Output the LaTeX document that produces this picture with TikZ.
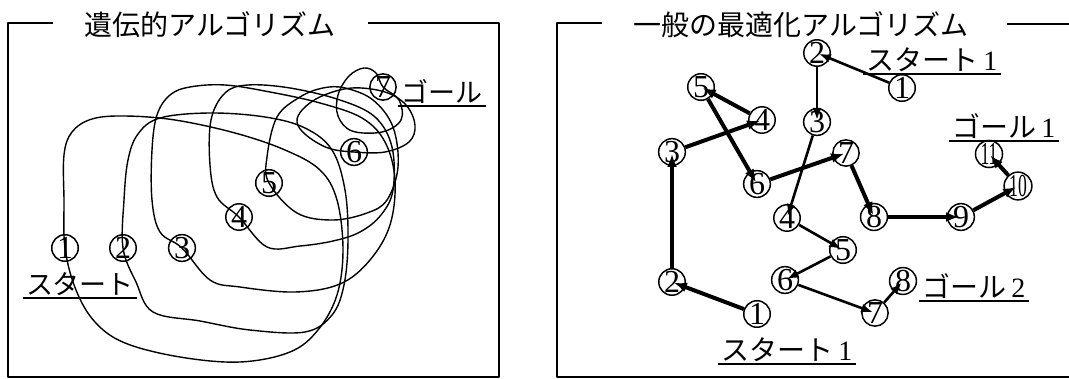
\documentclass[tikz,border=0pt]{standalone}
\usepackage{fontspec}
\usepackage{graphicx}
\setmainfont{Liberation Serif}
\newfontfamily\cjk{Noto Sans CJK JP}
\usetikzlibrary{arrows.meta}
\tikzset{
  fig/.style={x=1pt, y=-1pt, line join=round},
  frame/.style={line width=1.8pt},
  num/.style={draw, circle, line width=1.5pt, inner sep=0pt, minimum size=26pt, font=\fontsize{32}{32}\selectfont},
  galoop/.style={line width=1.4pt},
  ulabel/.style={anchor=south, inner xsep=3pt, inner ysep=2pt, font=\fontsize{27}{27}\selectfont},
  uline/.style={line width=1.8pt},
  ttl/.style={font=\cjk\fontsize{28}{28}\selectfont},
  pathA/.style={-{Latex[length=13pt,width=10pt]}, line width=4pt, shorten >=2pt},
  pathB/.style={-{Latex[length=12pt,width=9pt]}, line width=2.6pt, shorten >=2pt}
}
\newcommand{\tw}[1]{\scalebox{0.55}[1]{#1}}

\begin{document}
\begin{tikzpicture}[fig]
\useasboundingbox (0,0) rectangle (1069,379);
% left panel: genetic algorithm
\draw[frame] (53,23) -- (8,23) -- (8,377) -- (499,377) -- (499,23) -- (368,23);
\node[ttl] (gatitle) at (210,25) {遺伝的アルゴリズム};
\draw[galoop] plot[smooth cycle, tension=.6] coordinates {(65,248) (64,200) (64,155) (72,132) (92,119) (125,116) (175,120) (235,133) (285,150) (320,170) (337,200) (343,250) (337,295) (318,330) (290,352) (240,362) (180,357) (125,343) (95,322) (76,290)};
\draw[galoop] plot[smooth cycle, tension=.6] coordinates {(123,248) (124,200) (128,160) (138,134) (160,118) (210,113) (265,117) (305,128) (332,150) (345,190) (348,240) (344,285) (332,315) (305,332) (250,330) (200,321) (153,312) (136,282)};
\draw[galoop] plot[smooth cycle, tension=.6] coordinates {(182,248) (160,232) (152,200) (152,150) (157,115) (170,95) (190,87) (225,85) (270,92) (320,103) (362,118) (385,142) (395,180) (390,225) (370,260) (340,284) (295,292) (240,287) (210,280)};
\draw[galoop] plot[smooth cycle, tension=.6] coordinates {(239,217) (217,197) (210,165) (211,120) (225,93) (248,85) (290,88) (340,100) (375,117) (392,147) (393,190) (381,215) (360,232) (333,241) (300,246) (267,247)};
\draw[galoop] plot[smooth cycle, tension=.6] coordinates {(269,183) (267,157) (277,117) (300,97) (323,88) (345,88) (373,100) (393,127) (398,167) (387,200) (367,213) (333,220) (297,213)};
\draw[galoop] plot[smooth cycle, tension=.6] coordinates {(354,152) (328,148) (306,135) (297,122) (303,109) (322,96) (352,88) (385,92) (406,105) (415,125) (409,142) (385,152)};
\draw[galoop] plot[smooth cycle, tension=.6] coordinates {(383,87) (399,100) (401,120) (382,132) (352,131) (338,116) (338,95) (349,76) (364,68) (376,73)};
\foreach \i/\x/\y in {1/65/248, 2/123/248, 3/182/248, 4/239/217, 5/269/183, 6/354/152, 7/383/87}
  \node[num] (g\i) at (\x,\y) {\i};
\node[ulabel] (gstart) at (80,298) {\cjk スタート};
\node[ulabel] (ggoal) at (442,106) {\cjk ゴール};
\draw[uline] (gstart.south west) -- (gstart.south east);
\draw[uline] (ggoal.south west) -- (ggoal.south east);
% right panel: ordinary optimisation
\draw[frame] (602,23) -- (557,23) -- (557,377) -- (1069,377);
\draw[frame] (1007,24) -- (1069,24);
\node[ttl] (optitle) at (801,25) {一般の最適化アルゴリズム};
\foreach \i/\x/\y in {1/757/314, 2/672/282, 3/672/152, 4/762/120, 5/701/87, 6/757/184, 7/846/153, 8/874/217, 9/961/217}
  \node[num] (a\i) at (\x,\y) {\i};
\node[num] (a10) at (1018,186) {\tw{10}};
\node[num] (a11) at (989,154) {\tw{11}};
\foreach \i/\x/\y in {1/902/88, 2/817/53, 3/817/122, 4/787/218, 5/843/250, 6/785/280, 7/875/313, 8/903/281}
  \node[num] (b\i) at (\x,\y) {\i};
\foreach \i [count=\j from 2] in {1,...,10}
  \draw[pathA] (a\i) -- (a\j.center);
\foreach \i [count=\j from 2] in {1,...,7}
  \draw[pathB] (b\i) -- (b\j.center);
\node[ulabel, font=\fontsize{28}{28}\selectfont] (sa) at (787,364) {{\cjk スタート}\,1};
\node[ulabel, font=\fontsize{28}{28}\selectfont] (sb) at (932,74) {{\cjk スタート}\,1};
\node[ulabel, font=\fontsize{28}{28}\selectfont] (ga) at (1004,141) {{\cjk ゴール}\,1};
\node[ulabel, font=\fontsize{28}{28}\selectfont] (gb) at (974,301) {{\cjk ゴール}\,2};
\foreach \n in {sa, sb, ga, gb}
  \draw[uline] (\n.south west) -- (\n.south east);
\end{tikzpicture}
\end{document}
